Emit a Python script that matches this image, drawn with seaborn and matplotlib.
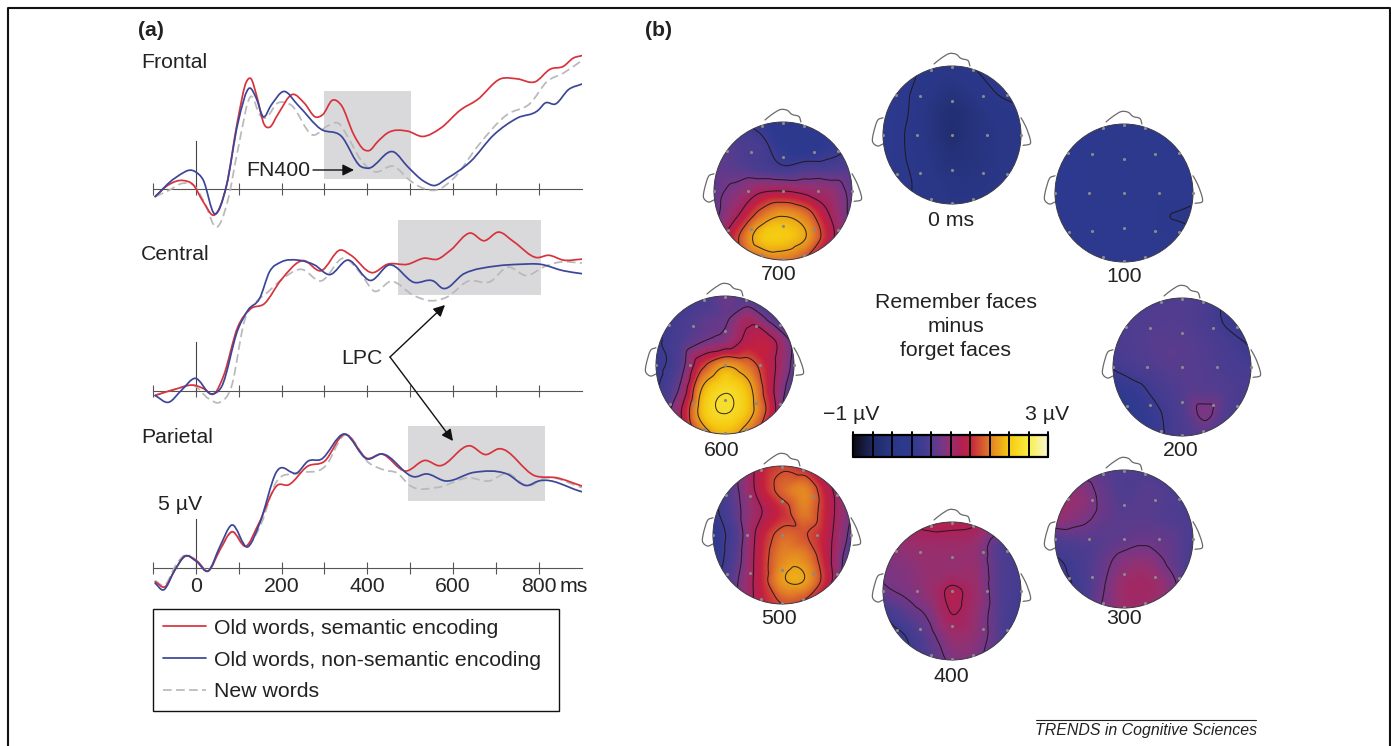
# plot.py - ERP waveforms and scalp maps, remember vs forget
import numpy as np
import pandas as pd
import matplotlib
matplotlib.use("Agg")
import matplotlib.pyplot as plt
import matplotlib.tri as mtri
from matplotlib.colors import LinearSegmentedColormap
from matplotlib.patches import Circle, Rectangle, FancyArrowPatch
from matplotlib.lines import Line2D
from matplotlib.path import Path
import seaborn as sns

# ===================== WAVEFORM DATA (ms, uV) =====================
frontal_red_ms = [-95, -64, -29, -6, 17, 44, 71, 98, 118, 129, 141, 160, 172, 191, 226, 253, 280, 296, 319, 339, 369, 393, 405, 424, 447, 494, 529, 571, 618, 657, 711, 750, 792, 827, 858, 881, 901]
frontal_red_uv = [-0.76, 0.45, 0.9, 0.45, -1.28, -2.65, 0.28, 7.2, 11.1, 11.4, 9.8, 6.65, 6.4, 7.7, 9.8, 8.9, 7.45, 7.7, 9.2, 8.7, 5.6, 4.07, 4.0, 4.9, 5.8, 6.0, 5.45, 6.3, 8.2, 9.25, 11.4, 11.4, 11.1, 12.4, 12.7, 13.55, 13.8]
frontal_blue_ms = [-95, -49, -2, 17, 44, 71, 98, 126, 141, 157, 176, 205, 238, 292, 339, 385, 401, 463, 494, 533, 556, 587, 641, 695, 750, 800, 815, 839, 870, 901]
frontal_blue_uv = [-0.76, 1.14, 1.83, 0.97, -2.55, 0.28, 6.8, 10.45, 9.4, 7.5, 8.7, 10.1, 8.7, 6.2, 5.5, 2.35, 2.17, 3.83, 2.35, 0.8, 0.38, 1.14, 2.86, 5.6, 7.35, 8.2, 8.9, 8.8, 10.3, 10.86]
frontal_gray_ms = [-95, -64, -29, -2, 21, 48, 75, 98, 129, 149, 160, 191, 222, 273, 308, 335, 354, 385, 416, 463, 498, 525, 563, 602, 657, 726, 781, 819, 858, 901]
frontal_gray_uv = [-0.76, -0.14, 0.62, 0.28, -1.45, -3.93, -1.1, 4.07, 9.6, 7.7, 7.35, 8.9, 8.7, 5.6, 6.55, 6.75, 5.45, 3.03, 1.83, 2.35, 0.97, 0.2, -0.07, 1.14, 4.4, 7.7, 8.9, 11.1, 12.0, 13.3]

central_red_ms = [-95, -49, -2, 17, 44, 64, 98, 126, 160, 199, 250, 292, 338, 362, 412, 447, 494, 533, 564, 595, 641, 672, 707, 742, 796, 823, 858, 901]
central_red_uv = [-0.5, 0.14, 0.55, 0.24, -0.28, 1.45, 6.6, 8.4, 9.0, 11.45, 13.45, 12.4, 14.55, 14.0, 12.2, 13.07, 13.07, 13.7, 13.6, 14.55, 16.3, 15.5, 16.4, 15.4, 13.76, 14.0, 13.5, 13.6]
central_blue_ms = [-95, -64, -33, -2, 37, 60, 98, 122, 149, 172, 199, 238, 277, 312, 354, 409, 451, 509, 556, 575, 626, 703, 757, 804, 858, 901]
central_blue_uv = [-0.5, -1.2, 0.07, 1.28, -0.34, 0.41, 6.3, 8.35, 9.55, 12.3, 13.3, 13.5, 13.0, 12.0, 13.5, 11.4, 13.0, 11.2, 11.3, 10.6, 12.1, 12.9, 13.07, 13.07, 12.4, 12.1]
central_gray_ms = [-95, -49, -2, 29, 56, 83, 114, 137, 168, 199, 246, 292, 346, 385, 416, 455, 509, 548, 587, 634, 688, 726, 773, 812, 850, 901]
central_gray_uv = [-0.45, 0.14, 0.48, -0.8, -1.2, 0.41, 7.3, 9.0, 10.2, 11.45, 12.55, 11.35, 13.7, 12.1, 10.3, 11.3, 9.83, 9.3, 9.7, 11.3, 11.3, 12.76, 11.9, 12.8, 13.3, 13.2]

parietal_red_ms = [-95, -72, -49, -26, 2, 29, 56, 83, 118, 145, 191, 215, 261, 300, 346, 401, 432, 490, 536, 567, 641, 676, 707, 792, 842, 901]
parietal_red_uv = [-1.45, -1.97, -0.24, 1.14, 0.72, -0.34, 1.83, 3.7, 2.24, 4.4, 8.55, 8.55, 10.5, 11.0, 13.8, 11.3, 11.76, 10.0, 11.1, 10.55, 12.6, 11.7, 12.3, 9.5, 9.3, 8.45]
parietal_blue_ms = [-95, -76, -49, -26, 2, 29, 56, 83, 122, 149, 188, 238, 261, 292, 346, 401, 432, 513, 536, 583, 649, 726, 773, 800, 901]
parietal_blue_uv = [-1.6, -2.3, -0.24, 1.2, 0.62, -0.34, 2.17, 4.4, 2.17, 4.6, 9.9, 9.86, 11.0, 11.2, 13.83, 11.24, 11.76, 9.4, 9.7, 8.97, 9.86, 9.7, 8.5, 8.97, 7.86]
parietal_gray_ms = [-95, -72, -49, -26, 2, 29, 56, 83, 122, 153, 184, 238, 304, 346, 405, 440, 471, 498, 563, 637, 684, 726, 777, 812, 901]
parietal_gray_uv = [-1.34, -1.8, 0.1, 1.3, 0.72, -0.24, 1.83, 3.66, 2.34, 4.6, 8.55, 9.76, 10.6, 13.7, 10.8, 10.1, 9.76, 8.55, 8.3, 9.3, 8.97, 9.76, 8.45, 9.24, 8.3]

cond_labels = ["Old words, semantic encoding", "Old words, non-semantic encoding", "New words"]
time_ticks = [-100, 0, 100, 200, 300, 400, 500, 600, 700, 800]
time_labels = ["", "0", "", "200", "", "400", "", "600", "", "800"]

# shaded windows: start, end, low, high
frontal_window = [299.5, 503, 1.07, 10.1]
central_window = [472.6, 806, 9.9, 17.7]
parietal_window = [494, 814, 6.9, 14.7]

# ===================== SCALP MAP DATA (uV, rows top to bottom) =====================
topo_0 = [[0.12, 0.08, -0.05, -0.12, 0.02, 0.14, 0.2],
          [0.12, 0.04, -0.15, -0.28, -0.15, 0.04, 0.14],
          [0.1, 0.02, -0.25, -0.42, -0.3, -0.12, -0.04],
          [0.12, -0.01, -0.25, -0.45, -0.3, -0.2, -0.15],
          [0.1, 0.0, -0.2, -0.35, -0.3, -0.2, -0.15],
          [0.1, 0.04, -0.15, -0.25, -0.25, -0.2, -0.15],
          [0.1, 0.04, -0.1, -0.2, -0.2, -0.15, -0.15]]
topo_100 = [[0.15, 0.15, 0.12, 0.1, 0.1, 0.12, 0.15],
            [0.15, 0.13, 0.1, 0.08, 0.08, 0.1, 0.12],
            [0.15, 0.12, 0.1, 0.08, 0.08, 0.1, 0.12],
            [0.15, 0.12, 0.1, 0.1, 0.1, 0.1, 0.1],
            [0.15, 0.13, 0.12, 0.12, 0.12, 0.0, -0.06],
            [0.15, 0.15, 0.12, 0.12, 0.12, 0.08, 0.1],
            [0.15, 0.15, 0.15, 0.12, 0.12, 0.12, 0.12]]
topo_200 = [[0.6, 0.6, 0.6, 0.6, 0.55, 0.3, 0.2],
            [0.6, 0.6, 0.62, 0.62, 0.55, 0.35, 0.25],
            [0.55, 0.6, 0.65, 0.65, 0.6, 0.5, 0.38],
            [0.42, 0.55, 0.62, 0.65, 0.62, 0.55, 0.5],
            [0.2, 0.32, 0.5, 0.62, 0.65, 0.6, 0.55],
            [0.15, 0.22, 0.38, 0.6, 0.85, 0.6, 0.5],
            [0.15, 0.2, 0.35, 0.55, 0.65, 0.55, 0.5]]
topo_300 = [[0.6, 0.6, 0.65, 0.6, 0.6, 0.55, 0.5],
            [0.9, 0.95, 0.75, 0.6, 0.65, 0.6, 0.5],
            [1.0, 0.9, 0.75, 0.65, 0.65, 0.6, 0.55],
            [0.6, 0.65, 0.65, 0.7, 0.75, 0.7, 0.55],
            [0.35, 0.5, 0.7, 0.9, 0.95, 0.75, 0.5],
            [0.3, 0.45, 0.75, 1.05, 1.1, 0.9, 0.5],
            [0.3, 0.5, 0.8, 1.05, 1.05, 0.9, 0.5]]
topo_400 = [[1.0, 1.1, 1.3, 1.3, 1.25, 1.0, 0.8],
            [0.95, 1.0, 1.05, 1.05, 1.0, 0.65, 0.55],
            [0.85, 0.9, 1.0, 1.0, 1.0, 0.65, 0.5],
            [0.75, 0.85, 1.0, 1.25, 1.05, 0.65, 0.45],
            [0.4, 0.65, 0.85, 1.2, 1.0, 0.65, 0.4],
            [0.2, 0.4, 0.7, 1.0, 0.95, 0.65, 0.3],
            [0.2, 0.35, 0.6, 0.85, 0.85, 0.6, 0.3]]
topo_500 = [[0.5, 0.8, 1.3, 1.55, 1.4, 1.0, 0.6],
            [0.3, 0.75, 1.3, 1.7, 1.85, 1.3, 0.8],
            [0.3, 0.7, 1.15, 1.45, 1.8, 1.35, 0.8],
            [0.2, 0.6, 1.3, 1.7, 1.62, 1.3, 0.7],
            [0.2, 0.65, 1.35, 1.85, 1.85, 1.3, 0.5],
            [0.3, 0.75, 1.35, 1.95, 1.98, 1.35, 0.4],
            [0.4, 0.8, 1.3, 1.6, 1.5, 1.0, 0.3]]
topo_600 = [[0.3, 0.35, 0.5, 0.75, 0.55, 0.3, 0.3],
            [0.3, 0.5, 0.65, 0.75, 1.1, 0.7, 0.3],
            [0.35, 0.55, 0.8, 0.95, 1.3, 1.3, 0.7],
            [0.3, 0.6, 1.5, 1.95, 1.75, 1.3, 0.7],
            [0.35, 0.8, 2.0, 2.35, 2.1, 1.3, 0.5],
            [0.35, 1.1, 2.15, 2.42, 2.15, 1.4, 0.3],
            [0.4, 1.0, 1.8, 2.1, 1.8, 1.1, 0.3]]
topo_700 = [[0.6, 0.5, 0.3, 0.05, 0.1, 0.3, 0.5],
            [0.7, 0.6, 0.5, 0.2, 0.1, 0.25, 0.4],
            [0.7, 0.65, 0.55, 0.45, 0.55, 0.55, 0.6],
            [0.7, 0.9, 1.15, 1.2, 1.1, 1.0, 0.7],
            [0.7, 1.15, 1.7, 1.95, 1.75, 1.2, 0.7],
            [0.9, 1.55, 2.15, 2.22, 2.0, 1.35, 0.7],
            [0.9, 1.4, 1.7, 1.8, 1.55, 1.0, 0.6]]
topo_labels = ["0 ms", "100", "200", "300", "400", "500", "600", "700"]

electrode_x = [-0.31, 0, 0.30, -0.81, -0.46, 0, 0.45, 0.8, -1, -0.51, 0, 0.5, 1, -0.8, -0.46, 0, 0.45, 0.8, -0.31, 0, 0.3]
electrode_y = [0.94, 0.98, 0.94, 0.58, 0.56, 0.5, 0.56, 0.58, 0, 0, 0, 0, 0, -0.56, -0.55, -0.5, -0.55, -0.56, -0.93, -0.99, -0.93]

nose_x = [-0.26, -0.16, -0.04, 0.06, 0.13, 0.23, 0.26]
nose_y = [1.03, 1.11, 1.18, 1.17, 1.11, 1.08, 1.0]
ear_left_x = [-1.0, -1.08, -1.14, -1.15, -1.08, -1.0]
ear_left_y = [0.25, 0.21, 0.02, -0.1, -0.16, -0.13]
ear_right_x = [1.0, 1.07, 1.13, 1.13, 1.03]
ear_right_y = [0.25, 0.12, -0.05, -0.13, -0.15]

# ===================== CONFIG =====================
W, H = 1391, 746
RED = "#d8323c"
BLUE = "#3b4699"
GRAY = "#b9b9bb"
SHADE = "#d9d9db"
INK = "#222222"
FS = 15.3

sns.set_style("white")
plt.rcParams["font.family"] = ["Liberation Sans", "DejaVu Sans"]
plt.rcParams["text.color"] = INK

cmap = LinearSegmentedColormap.from_list("erp", [
    (0.00, "#0d0a14"), (0.10, "#1f2a66"), (0.20, "#2a3787"), (0.30, "#2d3a90"),
    (0.40, "#4f3d90"), (0.46, "#7a3684"), (0.50, "#96306f"), (0.55, "#ab2259"), (0.60, "#c4203f"),
    (0.70, "#e07a28"), (0.80, "#f5c810"), (0.90, "#f9ee40"), (1.00, "#f9f6cf")])
levels = [0.0, 0.4, 0.8, 1.2, 1.6, 2.0, 2.4]


def fx(px):
    return px / W


def fy(py):
    return 1 - py / H


def px_axes(left, top, right, bottom):
    return fig.add_axes([fx(left), fy(bottom), (right - left) / W, (bottom - top) / H])


def smooth_line(line, by_x=True):
    # same read points, joined by curves instead of straight pieces
    line.recache()
    x = np.asarray(line.get_xdata(orig=False), dtype=float)
    y = np.asarray(line.get_ydata(orig=False), dtype=float)
    t = x if by_x else np.arange(len(x), dtype=float)
    dx, dy = np.gradient(x, t), np.gradient(y, t)
    verts = [(x[0], y[0])]
    codes = [Path.MOVETO]
    for i in range(len(x) - 1):
        h = (t[i + 1] - t[i]) / 3
        verts += [(x[i] + h * dx[i], y[i] + h * dy[i]),
                  (x[i + 1] - h * dx[i + 1], y[i + 1] - h * dy[i + 1]),
                  (x[i + 1], y[i + 1])]
        codes += [Path.CURVE4] * 3
    line._path = Path(verts, codes)
    line._transformed_path = None
    line._subslice = False


def draw_erp(box, ylim, red, blue, gray, window, show_labels=False):
    ax = px_axes(*box)
    ax.patch.set_alpha(0)
    frames = []
    for name, (ms, uv) in zip([cond_labels[2], cond_labels[0], cond_labels[1]], [gray, red, blue]):
        frames.append(pd.DataFrame({"ms": ms, "uv": uv, "cond": name}))
    long_df = pd.concat(frames, ignore_index=True)
    ax.add_patch(Rectangle((window[0], window[2]), window[1] - window[0], window[3] - window[2],
                           facecolor=SHADE, edgecolor="none", zorder=0))
    sns.lineplot(data=long_df, x="ms", y="uv", hue="cond", style="cond",
                 hue_order=[cond_labels[2], cond_labels[0], cond_labels[1]],
                 palette={cond_labels[0]: RED, cond_labels[1]: BLUE, cond_labels[2]: GRAY},
                 dashes={cond_labels[0]: "", cond_labels[1]: "", cond_labels[2]: (5, 2.5)},
                 estimator=None, sort=False, linewidth=1.25, legend=False, ax=ax, zorder=3)
    ax.set_xlim(-96.5, 900.5)
    ax.set_ylim(*ylim)
    ax.set_xlabel("")
    ax.set_ylabel("")
    for side in ["top", "right"]:
        ax.spines[side].set_visible(False)
    ax.spines["bottom"].set_position(("data", 0))
    ax.spines["bottom"].set_color("#555555")
    ax.spines["bottom"].set_zorder(1)
    ax.spines["left"].set_position(("data", 0))
    ax.spines["left"].set_bounds(0, 5)
    ax.spines["left"].set_color("#444444")
    ax.spines["left"].set_zorder(1)
    ax.set_yticks([])
    ax.set_xticks(time_ticks)
    ax.set_xticklabels(time_labels if show_labels else [""] * len(time_ticks), fontsize=FS)
    ax.tick_params(axis="x", direction="inout", length=8, width=0.8, color="#555555", pad=3, bottom=True)
    ax.grid(False)
    for line in ax.lines:
        smooth_line(line)
    return ax


def draw_topo(cx, cy, grid, r=69):
    ext = 1.25
    ax = px_axes(cx - r * ext, cy - r * ext, cx + r * ext, cy + r * ext)
    ax.patch.set_alpha(0)
    ax.set_axis_off()
    ax.set_xlim(-ext, ext)
    ax.set_ylim(-ext, ext)
    # smooth the read values over the head
    vals = np.array(grid)[::-1]
    gx, gy = np.meshgrid(np.linspace(-1, 1, 7), np.linspace(-1, 1, 7))
    tr = mtri.Triangulation(gx.ravel(), gy.ravel())
    interp = mtri.CubicTriInterpolator(tr, vals.ravel(), kind="geom")
    fine_x, fine_y = np.meshgrid(np.linspace(-1, 1, 240), np.linspace(-1, 1, 240))
    fine = np.ma.filled(interp(fine_x, fine_y), np.nan)
    head = Circle((0, 0), 1.0, facecolor="none", edgecolor="#3a3a44", linewidth=0.7, zorder=4)
    ax.add_patch(head)
    im = ax.imshow(fine, extent=(-1, 1, -1, 1), origin="lower", cmap=cmap, vmin=-1, vmax=3,
                   interpolation="bilinear", zorder=1)
    im.set_clip_path(head)
    cs = ax.contour(fine_x, fine_y, fine, levels=levels, colors="#1c1414", linewidths=0.75, alpha=0.85,
                    negative_linestyles="solid", zorder=2)
    cs.set_clip_path(head)
    ax.set_xlim(-ext, ext)
    ax.set_ylim(-ext, ext)
    sns.scatterplot(x=electrode_x, y=electrode_y, color="#8a8a8a", s=5, linewidth=0, ax=ax, zorder=5, clip_on=False)
    for xs, ys in [(nose_x, nose_y), (ear_left_x, ear_left_y), (ear_right_x, ear_right_y)]:
        outline, = ax.plot(xs, ys, color="#6a6a6a", linewidth=0.9, solid_capstyle="round", clip_on=False, zorder=3)
        smooth_line(outline, by_x=False)
    return ax


def label(px, py, s, ha="center", **kw):
    kw.setdefault("fontsize", FS)
    fig.text(fx(px), fy(py), s, ha=ha, va="center", **kw)


def arrow(start, end):
    fig.add_artist(FancyArrowPatch(
        (fx(start[0]), fy(start[1])), (fx(end[0]), fy(end[1])), transform=fig.transFigure,
        arrowstyle="-|>", mutation_scale=17, color="#111111", linewidth=1.0,
        shrinkA=0, shrinkB=0, zorder=6))


# ===================== FIGURE =====================
fig = plt.figure(figsize=(W / 100, H / 100), dpi=100, facecolor="white")

# outer frame
fig.add_artist(Line2D([fx(7.5), fx(7.5), fx(1390), fx(1390)], [fy(746), fy(7.5), fy(7.5), fy(746)],
                      transform=fig.transFigure, color="#111111", linewidth=1.5))

draw_erp((153, 44, 581.7, 232.8), (-4.5, 15), (frontal_red_ms, frontal_red_uv),
         (frontal_blue_ms, frontal_blue_uv), (frontal_gray_ms, frontal_gray_uv), frontal_window)
draw_erp((153, 216.6, 581.7, 419.7), (-3, 18), (central_red_ms, central_red_uv),
         (central_blue_ms, central_blue_uv), (central_gray_ms, central_gray_uv), central_window)
draw_erp((153, 422.7, 581.7, 596.7), (-3, 15), (parietal_red_ms, parietal_red_uv),
         (parietal_blue_ms, parietal_blue_uv), (parietal_gray_ms, parietal_gray_uv), parietal_window,
         show_labels=True)

label(138, 31, "(a)", ha="left", fontweight="bold")
label(645, 31, "(b)", ha="left", fontweight="bold")
label(141, 62, "Frontal", ha="left")
label(141, 254, "Central", ha="left")
label(141, 438, "Parietal", ha="left")
label(180, 504, "5 \u00b5V")
label(560, 586, "ms", ha="left")
label(278, 170, "FN400")
label(362, 358, "LPC")

arrow((313, 170), (354, 170))
arrow((390, 357), (445, 305))
arrow((390, 357), (453, 441))

# legend
handles = [Line2D([], [], color=RED, linewidth=1.25),
           Line2D([], [], color=BLUE, linewidth=1.25),
           Line2D([], [], color=GRAY, linewidth=1.25, dashes=(5, 2.5))]
fig.legend(handles, cond_labels, loc="upper left", bbox_to_anchor=(fx(153), fy(609), 406 / W, 0), mode="expand",
           borderaxespad=0, fontsize=FS, frameon=True, fancybox=False, edgecolor="#111111", framealpha=1,
           handlelength=2.05, handletextpad=0.38, labelspacing=0.6, borderpad=0.46)

# scalp maps, clockwise from the top
centers = [(952, 135), (1124, 193), (1182, 367), (1124, 539), (952, 591), (782, 535), (725, 365), (783, 191)]
grids = [topo_0, topo_100, topo_200, topo_300, topo_400, topo_500, topo_600, topo_700]
label_pos = [(951, 220), (1124, 277), (1181, 451), (1124, 619), (951, 676), (779, 619), (722, 451), (779, 274)]
for (cx, cy), grid, (lx, ly), txt in zip(centers, grids, label_pos, topo_labels):
    draw_topo(cx, cy, grid)
    label(lx, ly, txt)

label(956, 302, "Remember faces")
label(956, 326, "minus")
label(956, 350, "forget faces")
label(823, 415, "\u22121 \u00b5V", ha="left")
label(1069, 415, "3 \u00b5V", ha="right")

# colour scale
cax = px_axes(853, 435, 1048, 457)
ramp = np.linspace(-1, 3, 200).reshape(1, -1)
sns.heatmap(ramp, cmap=cmap, vmin=-1, vmax=3, cbar=False, xticklabels=False, yticklabels=False, ax=cax)
for i in range(11):
    cax.plot([i * 20, i * 20], [-0.12, 1], color="black", linewidth=1.4, clip_on=False)
cax.plot([0, 200, 200, 0, 0], [0, 0, 1, 1, 0], color="black", linewidth=1.6, clip_on=False)

# journal credit
fig.add_artist(Line2D([fx(1036), fx(1256)], [fy(720), fy(720)], transform=fig.transFigure, color="#222222", linewidth=0.8))
label(1035, 731, "TRENDS in Cognitive Sciences", ha="left", fontsize=11.45, fontstyle="italic")

fig.savefig("out.png", dpi=100)
